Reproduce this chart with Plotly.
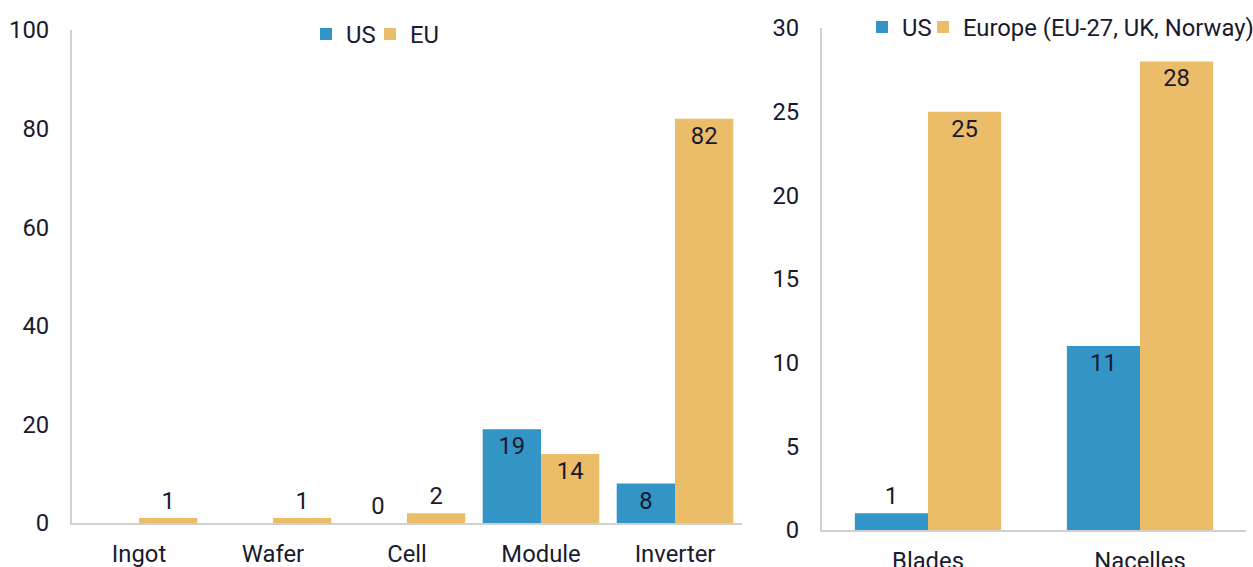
import plotly.graph_objects as go

solar_cats = ["Ingot", "Wafer", "Cell", "Module", "Inverter"]
solar_us = [None, None, 0, 19, 8]
solar_eu = [1, 1, 2, 14, 82]

wind_cats = ["Blades", "Nacelles"]
wind_us = [1, 11]
wind_eu = [25, 28]

BLUE = "#3394c6"
GOLD = "#ebbd68"
INK = "#1a1a2e"
AXIS = "#d0d0d0"
FS = 23.8
W, H = 1253, 567


def labels(vals):
    return ["" if v is None else str(v) for v in vals]


def positions(vals, cutoff):
    return ["inside" if (v is not None and v >= cutoff) else "outside" for v in vals]


fig = go.Figure()

# left panel: solar supply chain
fig.add_trace(go.Bar(x=solar_cats, y=solar_us, name="US", marker_color=BLUE,
                     text=labels(solar_us), textposition=positions(solar_us, 5),
                     legendwidth=19, xaxis="x", yaxis="y", legend="legend"))
fig.add_trace(go.Bar(x=solar_cats, y=solar_eu, name="EU", marker_color=GOLD,
                     text=labels(solar_eu), textposition=positions(solar_eu, 5),
                     xaxis="x", yaxis="y", legend="legend"))

# right panel: wind components (narrower bars than the left panel)
fig.add_trace(go.Bar(x=wind_cats, y=wind_us, name="US", marker_color=BLUE,
                     text=labels(wind_us), textposition=positions(wind_us, 3),
                     width=0.345, offset=-0.345, legendwidth=16,
                     xaxis="x2", yaxis="y2", legend="legend2"))
fig.add_trace(go.Bar(x=wind_cats, y=wind_eu, name="Europe (EU-27, UK, Norway)", marker_color=GOLD,
                     text=labels(wind_eu), textposition=positions(wind_eu, 3),
                     width=0.345, offset=0,
                     xaxis="x2", yaxis="y2", legend="legend2"))

fig.update_traces(insidetextanchor="end", cliponaxis=False, constraintext="none",
                  textfont=dict(size=FS, color=INK), marker_line_width=0)

axis_common = dict(showgrid=False, zeroline=False, showline=True, linecolor=AXIS,
                   linewidth=2, ticks="", automargin=False, tickfont=dict(size=FS, color=INK))


def leg(px, py):
    return dict(orientation="h", x=px / W, y=1 - py / H, yanchor="middle",
                xanchor="left", font=dict(size=FS, color=INK), itemwidth=30,
                bgcolor="rgba(0,0,0,0)")


fig.update_layout(
    width=W, height=H, autosize=False,
    # autoexpand off: the right legend runs to the edge and must not shrink the plots
    margin=dict(l=0, r=0, t=0, b=0, autoexpand=False),
    paper_bgcolor="white", plot_bgcolor="white",
    font=dict(family="Roboto, sans-serif", size=FS, color=INK),
    barmode="group", bargap=0.13,
    xaxis=dict(domain=[72 / W, 742 / W], anchor="y", ticklabelstandoff=8, **axis_common),
    yaxis=dict(domain=[44 / H, 537 / H], anchor="x", range=[0, 100], dtick=20,
               ticklabelstandoff=16, **axis_common),
    xaxis2=dict(domain=[822 / W, 1246 / W], anchor="y2", ticklabelstandoff=8, **axis_common),
    yaxis2=dict(domain=[37 / H, 539 / H], anchor="x2", range=[0, 30], dtick=5,
                ticklabelstandoff=16, **axis_common),
    legend=leg(306, 34),
    legend2=leg(862, 27),
)

# drop the default 8px body margin so the figure fills the window exactly
fig.write_html("out.html", config={"responsive": False, "displayModeBar": False},
               post_script="document.body.style.margin='0';")
